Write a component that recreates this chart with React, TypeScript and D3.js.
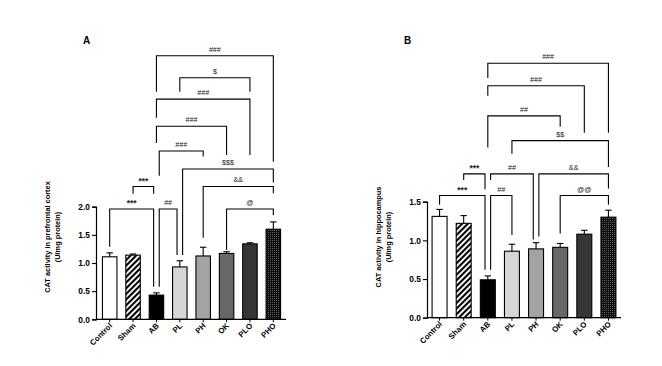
import { useEffect, useRef } from "react";
import * as d3 from "d3";

const groups = ["Control", "Sham", "AB", "PL", "PH", "OK", "PLO", "PHO"];

// panel A: prefrontal cortex
const cortexMean = [1.11, 1.14, 0.43, 0.93, 1.125, 1.17, 1.34, 1.6];
const cortexSem = [0.07, 0.02, 0.04, 0.11, 0.155, 0.03, 0.02, 0.13];
const cortexTicks = [0, 0.5, 1.0, 1.5, 2.0];
// [from, to, label, top, leg at from, leg at to, side from, side to]
const cortexBrackets: [number, number, string, number, number, number, number, number][] = [
    [2, 7, "###", 4.68, 4.04, 2.8, 0, 0],
    [3, 6, "$", 4.29, 4.04, 4.04, 0, 0],
    [2, 6, "###", 3.91, 3.58, 2.92, 0, 0],
    [2, 5, "###", 3.43, 3.13, 2.92, 0, 0],
    [2, 4, "###", 2.99, 2.55, 2.89, 1, 0],
    [3, 7, "$$$", 2.67, 1.14, 2.43, 1, 0],
    [4, 7, "&&", 2.36, 1.45, 2.24, 0, 0],
    [5, 7, "@", 1.96, 1.23, 1.85, 0, 0],
    [1, 2, "***", 2.36, 2.23, 2.23, 0, -1],
    [0, 2, "***", 1.96, 1.29, 0.58, 0, -1],
    [2, 3, "##", 1.96, 0.58, 1.14, 1, -1],
];

// panel B: hippocampus
const hippoMean = [1.31, 1.22, 0.49, 0.86, 0.89, 0.91, 1.08, 1.3];
const hippoSem = [0.09, 0.1, 0.05, 0.09, 0.08, 0.05, 0.05, 0.09];
const hippoTicks = [0, 0.5, 1.0, 1.5];
const hippoBrackets: [number, number, string, number, number, number, number, number][] = [
    [2, 7, "###", 3.29, 3.1, 2.39, 0, 0],
    [2, 6, "###", 3.0, 2.87, 2.39, 0, 0],
    [2, 5, "##", 2.61, 2.2, 2.47, 0, 0],
    [3, 7, "$$", 2.29, 2.12, 1.95, 0, 0],
    [1, 2, "***", 1.86, 1.78, 1.66, 0, -1],
    [2, 4, "##", 1.86, 1.78, 1.01, 1, -1],
    [4, 7, "&&", 1.86, 1.05, 1.67, 1, 0],
    [0, 2, "***", 1.58, 1.46, 0.62, 0, -1],
    [2, 3, "##", 1.58, 0.62, 1.07, 1, 0],
    [5, 7, "@@", 1.58, 1.09, 1.46, 0, 0],
];

const fills = ["#ffffff", "url(#hatch)", "#000000", "#d6d6d6", "#a3a3a3", "#686868", "#363636", "url(#dots)"];
const FONT = "'Liberation Sans', Arial, sans-serif";

type Panel = {
    letter: string;
    title: string;
    means: number[];
    sems: number[];
    ticks: number[];
    brackets: [number, number, string, number, number, number, number, number][];
    x0: number;
    x1: number;
    axisX: number;
    axisEnd: number;
    y0: number;
    yTop: number;
    titleX: number;
    letterX: number;
};

const panels: Panel[] = [
    {
        letter: "A",
        title: "CAT activity in prefrontal cortex",
        means: cortexMean,
        sems: cortexSem,
        ticks: cortexTicks,
        brackets: cortexBrackets,
        x0: 98,
        x1: 285,
        axisX: 96,
        axisEnd: 286,
        y0: 319.3,
        yTop: 206.7,
        titleX: 47.5,
        letterX: 83,
    },
    {
        letter: "B",
        title: "CAT activity in hippocampus",
        means: hippoMean,
        sems: hippoSem,
        ticks: hippoTicks,
        brackets: hippoBrackets,
        x0: 427.5,
        x1: 620.5,
        axisX: 427,
        axisEnd: 621,
        y0: 317.7,
        yTop: 201.7,
        titleX: 378,
        letterX: 404,
    },
];

const App = () => {
    const ref = useRef<SVGSVGElement | null>(null);

    useEffect(() => {
        if (!ref.current) return;
        const svg = d3.select(ref.current);
        svg.selectAll("*").remove();

        const defs = svg.append("defs");
        const hatch = defs
            .append("pattern")
            .attr("id", "hatch")
            .attr("patternUnits", "userSpaceOnUse")
            .attr("width", 4)
            .attr("height", 4)
            .attr("patternTransform", "rotate(45)");
        hatch.append("rect").attr("width", 4).attr("height", 4).attr("fill", "#fff");
        hatch.append("line").attr("x1", 1).attr("y1", 0).attr("x2", 1).attr("y2", 4)
            .attr("stroke", "#000").attr("stroke-width", 2.2);

        const dots = defs
            .append("pattern")
            .attr("id", "dots")
            .attr("patternUnits", "userSpaceOnUse")
            .attr("width", 2)
            .attr("height", 2);
        dots.append("rect").attr("width", 2).attr("height", 2).attr("fill", "#0d0d0d");
        dots.append("rect").attr("width", 0.8).attr("height", 0.8).attr("fill", "#8a8a8a");

        panels.forEach((p) => {
            const maxTick = p.ticks[p.ticks.length - 1];
            const x = d3.scaleBand().domain(groups).range([p.x0, p.x1]).paddingInner(0.38).paddingOuter(0.19);
            const y = d3.scaleLinear().domain([0, maxTick]).range([p.y0, p.yTop]);
            const g = svg.append("g");

            // bars
            g.selectAll("rect.bar")
                .data(p.means)
                .enter()
                .append("rect")
                .attr("x", (_, i) => x(groups[i])!)
                .attr("y", (d) => y(d))
                .attr("width", x.bandwidth())
                .attr("height", (d) => p.y0 - y(d))
                .attr("fill", (_, i) => fills[i])
                .attr("stroke", "#000")
                .attr("stroke-width", 1.1);

            // error bars (upper only)
            p.means.forEach((m, i) => {
                const cx = x(groups[i])! + x.bandwidth() / 2;
                g.append("line").attr("x1", cx).attr("x2", cx)
                    .attr("y1", y(m)).attr("y2", y(m + p.sems[i]))
                    .attr("stroke", "#000").attr("stroke-width", 1.1);
                g.append("line").attr("x1", cx - 3.2).attr("x2", cx + 3.2)
                    .attr("y1", y(m + p.sems[i])).attr("y2", y(m + p.sems[i]))
                    .attr("stroke", "#000").attr("stroke-width", 1.1);
            });

            // y axis
            const yAxis = g.append("g")
                .attr("transform", `translate(${p.axisX},0)`)
                .call(d3.axisLeft(y).tickValues(p.ticks).tickFormat(d3.format(".1f")).tickSize(4).tickPadding(2));
            yAxis.select(".domain").attr("stroke-width", 1.2);
            yAxis.selectAll(".tick line").attr("stroke-width", 1.1);
            yAxis.selectAll("text")
                .attr("font-family", FONT)
                .attr("font-weight", "bold")
                .attr("font-size", 8.4)
                .attr("fill", "#000");

            // x axis
            const xAxis = g.append("g").attr("transform", `translate(0,${p.y0})`);
            xAxis.append("line").attr("x1", p.axisX).attr("x2", p.axisEnd)
                .attr("stroke", "#000").attr("stroke-width", 1.2);
            groups.forEach((name, i) => {
                const cx = x(name)! + x.bandwidth() / 2;
                xAxis.append("line").attr("x1", cx).attr("x2", cx).attr("y1", 0).attr("y2", 3)
                    .attr("stroke", "#000").attr("stroke-width", 1);
                xAxis.append("text")
                    .attr("transform", `translate(${cx + 3},${7}) rotate(-45)`)
                    .attr("text-anchor", "end")
                    .attr("font-family", FONT)
                    .attr("font-weight", "bold")
                    .attr("font-size", 7.8)
                    .text(name);
            });

            // y title
            const tcy = 237;
            g.append("text")
                .attr("transform", `translate(${p.titleX + 2.5},${tcy}) rotate(-90)`)
                .attr("text-anchor", "middle")
                .attr("font-family", FONT)
                .attr("font-weight", "bold")
                .attr("font-size", 7.4)
                .text(p.title);
            g.append("text")
                .attr("transform", `translate(${p.titleX + 12.5},${tcy}) rotate(-90)`)
                .attr("text-anchor", "middle")
                .attr("font-family", FONT)
                .attr("font-weight", "bold")
                .attr("font-size", 7.4)
                .text("(U/mg protein)");

            // panel letter
            g.append("text")
                .attr("x", p.letterX)
                .attr("y", 44)
                .attr("font-family", FONT)
                .attr("font-weight", "bold")
                .attr("font-size", 10)
                .text(p.letter);

            // significance brackets
            p.brackets.forEach(([a, b, label, top, la, lb, sa, sb]) => {
                const xa = x(groups[a])! + x.bandwidth() / 2 + sa * 2.8;
                const xb = x(groups[b])! + x.bandwidth() / 2 + sb * 2.8;
                const path = d3.path();
                path.moveTo(xa, y(la));
                path.lineTo(xa, y(top));
                path.lineTo(xb, y(top));
                path.lineTo(xb, y(lb));
                g.append("path").attr("d", path.toString())
                    .attr("fill", "none").attr("stroke", "#000").attr("stroke-width", 1.1);
                const star = label.startsWith("*");
                g.append("text")
                    .attr("x", (xa + xb) / 2)
                    .attr("y", y(top) - (star ? 2.5 : 4))
                    .attr("text-anchor", "middle")
                    .attr("font-family", FONT)
                    .attr("font-weight", star ? "bold" : "normal")
                    .attr("font-size", star ? 8.5 : 7.2)
                    .attr("fill", "#222")
                    .text(label);
            });
        });
    }, []);

    return (
        <svg
            ref={ref}
            width={662}
            height={366}
            style={{ position: "absolute", left: 0, top: 0, background: "#fff" }}
        ></svg>
    );
};

export default App;
